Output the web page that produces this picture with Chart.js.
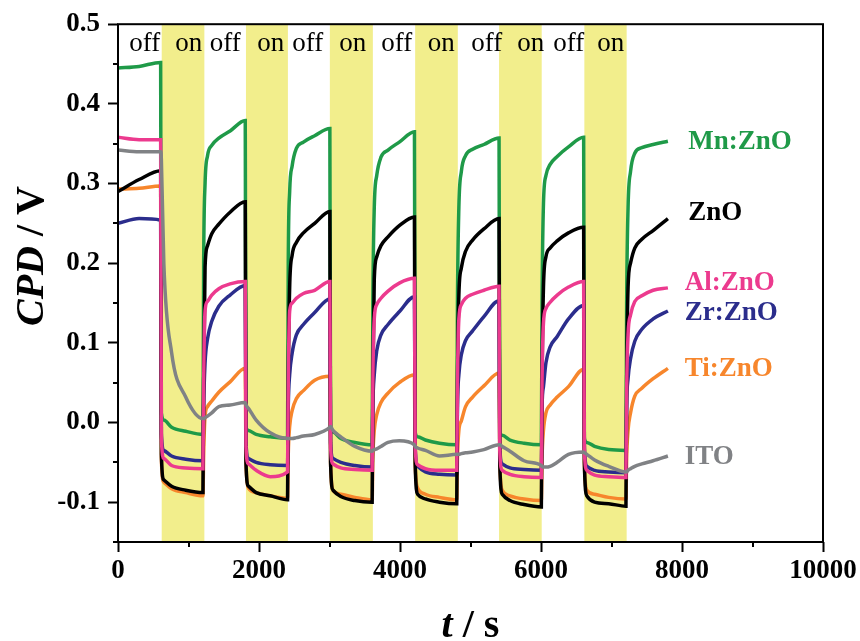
<!DOCTYPE html>
<html>
<head>
<meta charset="utf-8">
<script src="https://cdn.jsdelivr.net/npm/chart.js@4.4.1/dist/chart.umd.min.js"></script>
<style>
  html, body { margin: 0; padding: 0; background: #fff; }
  #wrap { width: 860px; height: 641px; }
</style>
</head>
<body>
<div id="wrap"><canvas id="cpd" width="860" height="641"></canvas></div>
<script>
// time axis (s), shared by all series
const times = [0, 300, 605,
  615, 650, 760, 960, 1205,
  1215, 1235, 1270, 1330, 1430, 1590, 1805,
  1815, 1850, 1960, 2160, 2405,
  2415, 2435, 2470, 2530, 2630, 2790, 3005,
  3015, 3050, 3160, 3360, 3605,
  3615, 3635, 3670, 3730, 3830, 3990, 4205,
  4215, 4250, 4360, 4560, 4805,
  4815, 4835, 4870, 4930, 5030, 5190, 5405,
  5415, 5450, 5560, 5760, 6005,
  6015, 6035, 6070, 6130, 6230, 6390, 6605,
  6615, 6650, 6760, 6960, 7205,
  7215, 7235, 7270, 7330, 7430, 7590, 7800];

// CPD values (V)
const mnZnO = [0.445, 0.447, 0.452,
  0.012, 0.003, -0.006, -0.011, -0.015,
  0.2, 0.3, 0.335, 0.348, 0.357, 0.366, 0.379,
  -0.005, -0.010, -0.015, -0.018, -0.020,
  0.2, 0.29, 0.322, 0.344, 0.352, 0.36, 0.369,
  -0.005, -0.012, -0.02, -0.025, -0.028,
  0.15, 0.27, 0.31, 0.333, 0.342, 0.352, 0.365,
  -0.012, -0.018, -0.022, -0.026, -0.028,
  0.15, 0.27, 0.315, 0.335, 0.343, 0.349, 0.357,
  -0.015, -0.016, -0.022, -0.026, -0.028,
  0.15, 0.275, 0.31, 0.324, 0.334, 0.346, 0.358,
  -0.02, -0.025, -0.03, -0.034, -0.035,
  0.15, 0.27, 0.315, 0.338, 0.345, 0.349, 0.353];

const znO = [0.29, 0.305, 0.316,
  -0.04, -0.072, -0.08, -0.085, -0.088,
  0.05, 0.195, 0.222, 0.237, 0.249, 0.264, 0.277,
  -0.05, -0.08, -0.088, -0.092, -0.097,
  0.05, 0.17, 0.21, 0.226, 0.238, 0.25, 0.265,
  -0.05, -0.085, -0.093, -0.098, -0.1,
  0.05, 0.18, 0.208, 0.222, 0.233, 0.247, 0.258,
  -0.05, -0.09, -0.096, -0.1, -0.102,
  0.05, 0.16, 0.194, 0.215, 0.229, 0.243, 0.256,
  -0.05, -0.09, -0.098, -0.103, -0.106,
  0.05, 0.17, 0.208, 0.219, 0.228, 0.238, 0.245,
  -0.05, -0.092, -0.1, -0.102, -0.105,
  0.05, 0.17, 0.2, 0.219, 0.23, 0.241, 0.256];

const alZnO = [0.358, 0.355, 0.355,
  -0.02, -0.045, -0.054, -0.057, -0.058,
  0.05, 0.14, 0.152, 0.16, 0.168, 0.174, 0.177,
  -0.03, -0.052, -0.06, -0.068, -0.062,
  0.05, 0.14, 0.15, 0.156, 0.162, 0.166, 0.177,
  -0.03, -0.052, -0.057, -0.059, -0.06,
  0.05, 0.13, 0.148, 0.156, 0.165, 0.175, 0.181,
  -0.03, -0.053, -0.058, -0.06, -0.06,
  0.05, 0.13, 0.148, 0.156, 0.161, 0.166, 0.171,
  -0.035, -0.06, -0.065, -0.068, -0.069,
  0.05, 0.125, 0.143, 0.151, 0.16, 0.17, 0.177,
  -0.035, -0.06, -0.066, -0.068, -0.069,
  0.04, 0.11, 0.135, 0.152, 0.159, 0.166, 0.169];

const zrZnO = [0.25, 0.256, 0.254,
  -0.015, -0.035, -0.042, -0.046, -0.048,
  0.02, 0.075, 0.105, 0.127, 0.146, 0.16, 0.172,
  -0.025, -0.045, -0.05, -0.053, -0.054,
  0.02, 0.06, 0.087, 0.11, 0.123, 0.138, 0.155,
  -0.025, -0.045, -0.05, -0.054, -0.056,
  0.02, 0.06, 0.09, 0.11, 0.123, 0.139, 0.158,
  -0.03, -0.055, -0.062, -0.065, -0.066,
  0.02, 0.06, 0.085, 0.103, 0.115, 0.133, 0.153,
  -0.03, -0.052, -0.057, -0.059, -0.06,
  0.02, 0.045, 0.075, 0.095, 0.108, 0.13, 0.147,
  -0.03, -0.055, -0.06, -0.062, -0.063,
  0.02, 0.055, 0.08, 0.102, 0.117, 0.13, 0.14];

const tiZnO = [0.293, 0.294, 0.297,
  -0.045, -0.075, -0.083, -0.088, -0.092,
  -0.04, 0.008, 0.02, 0.027, 0.038, 0.051, 0.068,
  -0.05, -0.082, -0.088, -0.092, -0.095,
  -0.04, -0.005, 0.015, 0.03, 0.04, 0.053, 0.058,
  -0.05, -0.085, -0.09, -0.094, -0.097,
  -0.045, -0.01, 0.01, 0.025, 0.037, 0.05, 0.06,
  -0.05, -0.082, -0.09, -0.094, -0.097,
  -0.045, -0.01, 0.002, 0.02, 0.032, 0.046, 0.062,
  -0.05, -0.085, -0.092, -0.096, -0.098,
  -0.045, -0.01, 0.012, 0.022, 0.032, 0.045, 0.067,
  -0.05, -0.085, -0.09, -0.094, -0.096,
  -0.045, -0.01, 0.012, 0.033, 0.043, 0.055, 0.068];

const ito = [0.342, 0.34, 0.34,
  0.33, 0.2, 0.088, 0.032, 0.005,
  0.005, 0.006, 0.008, 0.012, 0.02, 0.022, 0.025,
  0.022, 0.018, 0.003, -0.013, -0.02,
  -0.02, -0.02, -0.02, -0.019, -0.017, -0.015, -0.006,
  -0.005, -0.01, -0.018, -0.03, -0.036,
  -0.035, -0.034, -0.033, -0.03, -0.025, -0.023, -0.028,
  -0.03, -0.032, -0.035, -0.042, -0.04,
  -0.04, -0.04, -0.039, -0.038, -0.037, -0.034, -0.028,
  -0.028, -0.03, -0.036, -0.048, -0.054,
  -0.055, -0.056, -0.056, -0.055, -0.05, -0.04, -0.037,
  -0.038, -0.04, -0.047, -0.055, -0.062,
  -0.062, -0.06, -0.058, -0.055, -0.052, -0.048, -0.042];

// illumination ("on") intervals
const bandStart = [620, 1815, 3005, 4215, 5405, 6615];
const bandEnd = [1225, 2410, 3615, 4820, 6010, 7215];

// off / on captions along the top
const offTimes = [379, 1521, 2691, 3954, 5230, 6393];
const onTimes = [1003, 2166, 3329, 4584, 5854, 6990];
const captionV = 0.466;

const seriesNames = ['Mn:ZnO', 'ZnO', 'Al:ZnO', 'Zr:ZnO', 'Ti:ZnO', 'ITO'];
const seriesColors = ['#1f9a48', '#000000', '#ec3a8e', '#2b2d8c', '#f7862c', '#808285'];
const seriesValues = [mnZnO, znO, alZnO, zrZnO, tiZnO, ito];
const drawOrder = [6, 3, 2, 4, 5, 1];
const nameT = [8090, 8090, 8040, 8040, 8040, 8040];
const nameV = [0.352, 0.263, 0.175, 0.1375, 0.067, -0.043];

const SERIF = "'Liberation Serif', 'Times New Roman', serif";

const datasets = seriesNames.map((name, i) => ({
    label: name,
    data: times.map((t, j) => ({ x: t, y: seriesValues[i][j] })),
    borderColor: seriesColors[i],
    borderWidth: 3.5,
    pointRadius: 0,
    cubicInterpolationMode: 'monotone',
    fill: false,
    order: drawOrder[i]
}));

const isMajorY = v => Math.abs(Math.round(v * 100)) % 10 === 0;
const isMajorX = v => Math.round(v) % 2000 === 0;

const bandsPlugin = {
    id: 'bands',
    beforeDatasetsDraw(chart) {
        const { ctx, chartArea, scales } = chart;
        ctx.save();
        ctx.fillStyle = '#f2ee8c';
        bandStart.forEach((s, i) => {
            const x0 = scales.x.getPixelForValue(s);
            const x1 = scales.x.getPixelForValue(bandEnd[i]);
            ctx.fillRect(x0, chartArea.top, x1 - x0, chartArea.bottom - chartArea.top);
        });
        ctx.restore();
    }
};

const decorPlugin = {
    id: 'decor',
    afterDraw(chart) {
        const { ctx, chartArea, scales } = chart;
        const x = scales.x, y = scales.y;
        ctx.save();

        // frame
        ctx.strokeStyle = '#000';
        ctx.lineWidth = 2;
        ctx.strokeRect(chartArea.left, chartArea.top, chartArea.right - chartArea.left, chartArea.bottom - chartArea.top);

        // minor ticks
        ctx.lineWidth = 2;
        ctx.beginPath();
        y.ticks.forEach(t => {
            if (isMajorY(t.value)) return;
            const py = Math.round(y.getPixelForValue(t.value));
            ctx.moveTo(chartArea.left - 5, py);
            ctx.lineTo(chartArea.left, py);
        });
        x.ticks.forEach(t => {
            if (isMajorX(t.value)) return;
            const px = Math.round(x.getPixelForValue(t.value));
            ctx.moveTo(px, chartArea.bottom);
            ctx.lineTo(px, chartArea.bottom + 5);
        });
        ctx.stroke();

        // off / on captions
        ctx.fillStyle = '#000';
        ctx.font = `27px ${SERIF}`;
        ctx.textAlign = 'center';
        ctx.textBaseline = 'alphabetic';
        offTimes.forEach(t => ctx.fillText('off', x.getPixelForValue(t), y.getPixelForValue(captionV)));
        onTimes.forEach(t => ctx.fillText('on', x.getPixelForValue(t), y.getPixelForValue(captionV)));

        // series names
        ctx.font = `bold 27px ${SERIF}`;
        ctx.textAlign = 'left';
        ctx.textBaseline = 'middle';
        seriesNames.forEach((n, i) => {
            ctx.fillStyle = seriesColors[i];
            ctx.fillText(n, x.getPixelForValue(nameT[i]), y.getPixelForValue(nameV[i]));
        });

        // axis titles
        ctx.fillStyle = '#000';
        ctx.textBaseline = 'alphabetic';
        ctx.textAlign = 'left';
        const italic = `italic bold 40px ${SERIF}`;
        const upright = `bold 40px ${SERIF}`;

        ctx.font = italic;
        const wT = ctx.measureText('t').width;
        ctx.font = upright;
        const wS = ctx.measureText(' / s').width;
        const cx = (chartArea.left + chartArea.right) / 2;
        let sx = cx - (wT + wS) / 2;
        ctx.font = italic;
        ctx.fillText('t', sx, 637);
        ctx.font = upright;
        ctx.fillText(' / s', sx + wT, 637);

        ctx.translate(43, 256);
        ctx.rotate(-Math.PI / 2);
        ctx.font = italic;
        const wC = ctx.measureText('CPD').width;
        ctx.font = upright;
        const wV = ctx.measureText(' / V').width;
        sx = -(wC + wV) / 2;
        ctx.font = italic;
        ctx.fillText('CPD', sx, 0);
        ctx.font = upright;
        ctx.fillText(' / V', sx + wC, 0);

        ctx.restore();
    }
};

new Chart(document.getElementById('cpd'), {
    type: 'line',
    data: { datasets },
    options: {
        responsive: false,
        animation: false,
        layout: { padding: { top: 21, right: 37, left: 0, bottom: 0 } },
        plugins: {
            legend: { display: false },
            tooltip: { enabled: false }
        },
        scales: {
            x: {
                type: 'linear',
                min: 0,
                max: 10000,
                afterFit: s => { s.height = 99; },
                border: { display: false },
                grid: {
                    drawOnChartArea: false,
                    drawTicks: true,
                    tickLength: 10,
                    tickWidth: 2,
                    tickColor: c => isMajorX(c.tick.value) ? '#000' : 'rgba(0,0,0,0)'
                },
                ticks: {
                    stepSize: 1000,
                    autoSkip: false,
                    maxRotation: 0,
                    padding: 3,
                    color: '#000',
                    font: { family: SERIF, size: 27, weight: 'bold' },
                    callback: v => isMajorX(v) ? String(v) : ''
                }
            },
            y: {
                min: -0.15,
                max: 0.5,
                afterFit: s => { s.width = 118; },
                border: { display: false },
                grid: {
                    drawOnChartArea: false,
                    drawTicks: true,
                    tickLength: 10,
                    tickWidth: 2,
                    tickColor: c => isMajorY(c.tick.value) ? '#000' : 'rgba(0,0,0,0)'
                },
                ticks: {
                    stepSize: 0.05,
                    autoSkip: false,
                    padding: 8,
                    color: '#000',
                    font: { family: SERIF, size: 27, weight: 'bold' },
                    callback: v => isMajorY(v) ? v.toFixed(1) : ''
                }
            }
        }
    },
    plugins: [bandsPlugin, decorPlugin]
});
</script>
</body>
</html>
